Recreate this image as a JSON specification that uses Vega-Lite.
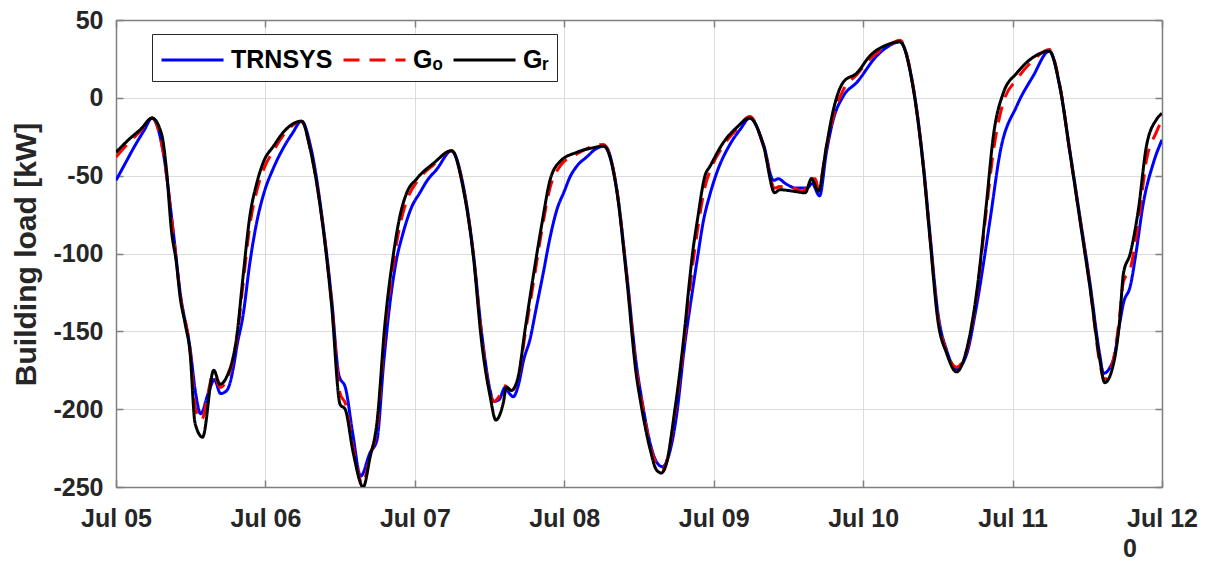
{
"$schema": "https://vega.github.io/schema/vega-lite/v6.json",
"width": 1046, "height": 467,
"autosize": {"type": "none"},
"padding": {"left": 116, "top": 20, "right": 50, "bottom": 75},
"background": "white",
"config": {"view": {"stroke": null}, "font": "Liberation Sans"},
"resolve": {"axis": {"x": "independent", "y": "independent"}},
"layer": [
{
"data": {"values": [
{"h":0,"s":"TRNSYS","v":-53},{"h":1.5,"s":"TRNSYS","v":-42},{"h":3,"s":"TRNSYS","v":-31},{"h":4.5,"s":"TRNSYS","v":-21},{"h":5.8,"s":"TRNSYS","v":-13},{"h":7.5,"s":"TRNSYS","v":-33},{"h":9.2,"s":"TRNSYS","v":-86},{"h":10.3,"s":"TRNSYS","v":-125},{"h":11.9,"s":"TRNSYS","v":-161},{"h":12.8,"s":"TRNSYS","v":-190},{"h":13.6,"s":"TRNSYS","v":-203},{"h":14.8,"s":"TRNSYS","v":-190},{"h":15.8,"s":"TRNSYS","v":-181},{"h":16.8,"s":"TRNSYS","v":-190},{"h":17.8,"s":"TRNSYS","v":-188},{"h":19,"s":"TRNSYS","v":-170},{"h":19.4,"s":"TRNSYS","v":-160},{"h":20.4,"s":"TRNSYS","v":-140},{"h":21.5,"s":"TRNSYS","v":-106},{"h":22.6,"s":"TRNSYS","v":-80},{"h":23.7,"s":"TRNSYS","v":-62},{"h":25.3,"s":"TRNSYS","v":-45},{"h":26.9,"s":"TRNSYS","v":-32},{"h":28.3,"s":"TRNSYS","v":-23},{"h":29.8,"s":"TRNSYS","v":-15},
{"h":31.3,"s":"TRNSYS","v":-32},{"h":33.3,"s":"TRNSYS","v":-83},{"h":34.6,"s":"TRNSYS","v":-128},{"h":35.8,"s":"TRNSYS","v":-178},{"h":36.9,"s":"TRNSYS","v":-187},{"h":38,"s":"TRNSYS","v":-215},{"h":39.3,"s":"TRNSYS","v":-243},{"h":40.8,"s":"TRNSYS","v":-228},{"h":41.9,"s":"TRNSYS","v":-220},{"h":43,"s":"TRNSYS","v":-170},{"h":44,"s":"TRNSYS","v":-132},{"h":45,"s":"TRNSYS","v":-105},{"h":46.1,"s":"TRNSYS","v":-87},{"h":47.5,"s":"TRNSYS","v":-70},{"h":48.8,"s":"TRNSYS","v":-61},{"h":50,"s":"TRNSYS","v":-53},{"h":51.5,"s":"TRNSYS","v":-46},{"h":53.9,"s":"TRNSYS","v":-34},
{"h":55.8,"s":"TRNSYS","v":-57},{"h":57.4,"s":"TRNSYS","v":-100},{"h":58.7,"s":"TRNSYS","v":-150},{"h":60.1,"s":"TRNSYS","v":-188},{"h":60.6,"s":"TRNSYS","v":-195},{"h":61.5,"s":"TRNSYS","v":-194},{"h":62.5,"s":"TRNSYS","v":-186},{"h":63.2,"s":"TRNSYS","v":-190},{"h":63.8,"s":"TRNSYS","v":-192},{"h":64.6,"s":"TRNSYS","v":-185},{"h":65.5,"s":"TRNSYS","v":-168},{"h":66.5,"s":"TRNSYS","v":-155},{"h":67.5,"s":"TRNSYS","v":-135},{"h":68.6,"s":"TRNSYS","v":-113},{"h":69.7,"s":"TRNSYS","v":-90},{"h":70.8,"s":"TRNSYS","v":-72},{"h":72,"s":"TRNSYS","v":-60},{"h":72.9,"s":"TRNSYS","v":-51},{"h":74.2,"s":"TRNSYS","v":-43},{"h":75.6,"s":"TRNSYS","v":-38},{"h":77,"s":"TRNSYS","v":-33},{"h":78.5,"s":"TRNSYS","v":-31},
{"h":80.4,"s":"TRNSYS","v":-58},{"h":82,"s":"TRNSYS","v":-112},{"h":83.6,"s":"TRNSYS","v":-172},{"h":84.5,"s":"TRNSYS","v":-195},{"h":85.8,"s":"TRNSYS","v":-222},{"h":87,"s":"TRNSYS","v":-235},{"h":87.8,"s":"TRNSYS","v":-237},{"h":88.6,"s":"TRNSYS","v":-232},{"h":90,"s":"TRNSYS","v":-205},{"h":91.3,"s":"TRNSYS","v":-160},{"h":92.7,"s":"TRNSYS","v":-121},{"h":93.5,"s":"TRNSYS","v":-100},{"h":94.3,"s":"TRNSYS","v":-80},{"h":95.4,"s":"TRNSYS","v":-62},{"h":96.5,"s":"TRNSYS","v":-48},{"h":98.6,"s":"TRNSYS","v":-30},{"h":100.3,"s":"TRNSYS","v":-20},{"h":101.8,"s":"TRNSYS","v":-13},
{"h":104,"s":"TRNSYS","v":-30},{"h":105.6,"s":"TRNSYS","v":-53},{"h":106.4,"s":"TRNSYS","v":-52},{"h":107.5,"s":"TRNSYS","v":-55},{"h":109.3,"s":"TRNSYS","v":-58},{"h":111,"s":"TRNSYS","v":-58},{"h":111.8,"s":"TRNSYS","v":-55},{"h":113,"s":"TRNSYS","v":-63},{"h":114.1,"s":"TRNSYS","v":-35},{"h":115.2,"s":"TRNSYS","v":-14},{"h":116.8,"s":"TRNSYS","v":1},{"h":119,"s":"TRNSYS","v":10},{"h":122.2,"s":"TRNSYS","v":27},{"h":124,"s":"TRNSYS","v":33},{"h":125.9,"s":"TRNSYS","v":36},
{"h":128,"s":"TRNSYS","v":8},{"h":129.7,"s":"TRNSYS","v":-44},{"h":130.7,"s":"TRNSYS","v":-86},{"h":132,"s":"TRNSYS","v":-138},{"h":133.4,"s":"TRNSYS","v":-162},{"h":135,"s":"TRNSYS","v":-174},{"h":136.6,"s":"TRNSYS","v":-165},{"h":138.2,"s":"TRNSYS","v":-134},{"h":140.4,"s":"TRNSYS","v":-78},{"h":142,"s":"TRNSYS","v":-35},{"h":144.7,"s":"TRNSYS","v":-5},{"h":147.3,"s":"TRNSYS","v":14},{"h":149.9,"s":"TRNSYS","v":30},
{"h":151.6,"s":"TRNSYS","v":7},{"h":153.2,"s":"TRNSYS","v":-34},{"h":154.8,"s":"TRNSYS","v":-76},{"h":156.4,"s":"TRNSYS","v":-118},{"h":158,"s":"TRNSYS","v":-165},{"h":158.6,"s":"TRNSYS","v":-177},{"h":160.2,"s":"TRNSYS","v":-168},{"h":161.2,"s":"TRNSYS","v":-145},{"h":161.8,"s":"TRNSYS","v":-132},{"h":162.9,"s":"TRNSYS","v":-121},{"h":164,"s":"TRNSYS","v":-95},{"h":164.9,"s":"TRNSYS","v":-70},{"h":166.6,"s":"TRNSYS","v":-42},{"h":168,"s":"TRNSYS","v":-27},

{"h":0,"s":"Gₒ","v":-38},{"h":2,"s":"Gₒ","v":-29},{"h":4,"s":"Gₒ","v":-21},{"h":5.8,"s":"Gₒ","v":-13},{"h":7.5,"s":"Gₒ","v":-33},{"h":9.2,"s":"Gₒ","v":-87},{"h":10.3,"s":"Gₒ","v":-126},{"h":11.9,"s":"Gₒ","v":-162},{"h":12.8,"s":"Gₒ","v":-200},{"h":13.7,"s":"Gₒ","v":-207},{"h":15.7,"s":"Gₒ","v":-177},{"h":16.7,"s":"Gₒ","v":-186},{"h":17.8,"s":"Gₒ","v":-181},{"h":19.4,"s":"Gₒ","v":-155},{"h":20.4,"s":"Gₒ","v":-120},{"h":21.5,"s":"Gₒ","v":-82},{"h":22.6,"s":"Gₒ","v":-60},{"h":23.7,"s":"Gₒ","v":-46},{"h":25.3,"s":"Gₒ","v":-34},{"h":26.9,"s":"Gₒ","v":-24},{"h":29.8,"s":"Gₒ","v":-15},
{"h":31.2,"s":"Gₒ","v":-33},{"h":33.3,"s":"Gₒ","v":-84},{"h":34.6,"s":"Gₒ","v":-130},{"h":36,"s":"Gₒ","v":-190},{"h":36.9,"s":"Gₒ","v":-197},{"h":38.1,"s":"Gₒ","v":-225},{"h":39.6,"s":"Gₒ","v":-248},{"h":40.8,"s":"Gₒ","v":-230},{"h":41.9,"s":"Gₒ","v":-213},{"h":43.2,"s":"Gₒ","v":-150},{"h":44.5,"s":"Gₒ","v":-108},{"h":45.6,"s":"Gₒ","v":-82},{"h":46.7,"s":"Gₒ","v":-66},{"h":48.3,"s":"Gₒ","v":-54},{"h":51,"s":"Gₒ","v":-43},{"h":53.9,"s":"Gₒ","v":-34},
{"h":55.8,"s":"Gₒ","v":-58},{"h":57.4,"s":"Gₒ","v":-101},{"h":58.7,"s":"Gₒ","v":-152},{"h":60.1,"s":"Gₒ","v":-190},{"h":60.7,"s":"Gₒ","v":-195},{"h":61.5,"s":"Gₒ","v":-192},{"h":62.5,"s":"Gₒ","v":-185},{"h":63.5,"s":"Gₒ","v":-188},{"h":64.6,"s":"Gₒ","v":-180},{"h":65.7,"s":"Gₒ","v":-152},{"h":67,"s":"Gₒ","v":-120},{"h":68.4,"s":"Gₒ","v":-85},{"h":69.7,"s":"Gₒ","v":-58},{"h":71.3,"s":"Gₒ","v":-44},{"h":74,"s":"Gₒ","v":-36},{"h":76.7,"s":"Gₒ","v":-31},{"h":78.3,"s":"Gₒ","v":-30},
{"h":80.4,"s":"Gₒ","v":-58},{"h":82,"s":"Gₒ","v":-113},{"h":83.6,"s":"Gₒ","v":-175},{"h":84.5,"s":"Gₒ","v":-196},{"h":85.8,"s":"Gₒ","v":-224},{"h":87,"s":"Gₒ","v":-236},{"h":87.7,"s":"Gₒ","v":-239},{"h":88.5,"s":"Gₒ","v":-233},{"h":89.8,"s":"Gₒ","v":-202},{"h":91.3,"s":"Gₒ","v":-155},{"h":92.6,"s":"Gₒ","v":-108},{"h":93.4,"s":"Gₒ","v":-85},{"h":94.6,"s":"Gₒ","v":-57},{"h":95.5,"s":"Gₒ","v":-46},{"h":97.5,"s":"Gₒ","v":-31},{"h":99.7,"s":"Gₒ","v":-20},{"h":101.8,"s":"Gₒ","v":-12},
{"h":104,"s":"Gₒ","v":-31},{"h":105.8,"s":"Gₒ","v":-58},{"h":106.6,"s":"Gₒ","v":-57},{"h":108.8,"s":"Gₒ","v":-58},{"h":110.4,"s":"Gₒ","v":-60},{"h":111.4,"s":"Gₒ","v":-52},{"h":112.3,"s":"Gₒ","v":-52},{"h":112.8,"s":"Gₒ","v":-58},{"h":114.1,"s":"Gₒ","v":-32},{"h":115.2,"s":"Gₒ","v":-12},{"h":116.8,"s":"Gₒ","v":5},{"h":119,"s":"Gₒ","v":15},{"h":121.1,"s":"Gₒ","v":25},{"h":123.8,"s":"Gₒ","v":33},{"h":125.9,"s":"Gₒ","v":37},
{"h":128,"s":"Gₒ","v":8},{"h":129.7,"s":"Gₒ","v":-45},{"h":130.7,"s":"Gₒ","v":-88},{"h":132,"s":"Gₒ","v":-140},{"h":133.4,"s":"Gₒ","v":-163},{"h":135,"s":"Gₒ","v":-173},{"h":136.6,"s":"Gₒ","v":-163},{"h":138.2,"s":"Gₒ","v":-128},{"h":139.8,"s":"Gₒ","v":-72},{"h":140.9,"s":"Gₒ","v":-35},{"h":142.5,"s":"Gₒ","v":-3},{"h":144.7,"s":"Gₒ","v":12},{"h":147.3,"s":"Gₒ","v":24},{"h":149.9,"s":"Gₒ","v":31},
{"h":151.6,"s":"Gₒ","v":8},{"h":153.2,"s":"Gₒ","v":-35},{"h":154.8,"s":"Gₒ","v":-77},{"h":156.4,"s":"Gₒ","v":-120},{"h":158,"s":"Gₒ","v":-170},{"h":158.7,"s":"Gₒ","v":-181},{"h":160.2,"s":"Gₒ","v":-168},{"h":161.2,"s":"Gₒ","v":-140},{"h":161.8,"s":"Gₒ","v":-118},{"h":162.9,"s":"Gₒ","v":-110},{"h":164.2,"s":"Gₒ","v":-80},{"h":165.5,"s":"Gₒ","v":-40},{"h":167.1,"s":"Gₒ","v":-22},{"h":168,"s":"Gₒ","v":-14},

{"h":0,"s":"Gᵣ","v":-35},{"h":2,"s":"Gᵣ","v":-27},{"h":4,"s":"Gᵣ","v":-20},{"h":5.8,"s":"Gᵣ","v":-13},{"h":7.3,"s":"Gᵣ","v":-23},{"h":8.1,"s":"Gᵣ","v":-46},{"h":8.9,"s":"Gᵣ","v":-85},{"h":9.7,"s":"Gᵣ","v":-106},{"h":10.3,"s":"Gᵣ","v":-128},{"h":11.1,"s":"Gᵣ","v":-145},{"h":11.9,"s":"Gᵣ","v":-164},{"h":12.7,"s":"Gᵣ","v":-209},{"h":13.9,"s":"Gᵣ","v":-218},{"h":15.7,"s":"Gᵣ","v":-175},{"h":16.7,"s":"Gᵣ","v":-184},{"h":17.8,"s":"Gᵣ","v":-179},{"h":19.4,"s":"Gᵣ","v":-153},{"h":20.4,"s":"Gᵣ","v":-115},{"h":21.5,"s":"Gᵣ","v":-76},{"h":22.6,"s":"Gᵣ","v":-55},{"h":23.7,"s":"Gᵣ","v":-41},{"h":25.3,"s":"Gᵣ","v":-31},{"h":26.9,"s":"Gᵣ","v":-22},{"h":29.8,"s":"Gᵣ","v":-15},
{"h":31.2,"s":"Gᵣ","v":-33},{"h":33.3,"s":"Gᵣ","v":-85},{"h":34.6,"s":"Gᵣ","v":-132},{"h":36,"s":"Gᵣ","v":-197},{"h":36.8,"s":"Gᵣ","v":-200},{"h":38.1,"s":"Gᵣ","v":-228},{"h":39.7,"s":"Gᵣ","v":-250},{"h":40.8,"s":"Gᵣ","v":-231},{"h":41.9,"s":"Gᵣ","v":-209},{"h":43.2,"s":"Gᵣ","v":-145},{"h":44.5,"s":"Gᵣ","v":-102},{"h":45.6,"s":"Gᵣ","v":-76},{"h":46.7,"s":"Gᵣ","v":-61},{"h":48.3,"s":"Gᵣ","v":-52},{"h":51,"s":"Gᵣ","v":-42},{"h":53.9,"s":"Gᵣ","v":-34},
{"h":55.8,"s":"Gᵣ","v":-59},{"h":57.4,"s":"Gᵣ","v":-102},{"h":58.7,"s":"Gᵣ","v":-156},{"h":60.1,"s":"Gᵣ","v":-192},{"h":61,"s":"Gᵣ","v":-207},{"h":62.2,"s":"Gᵣ","v":-196},{"h":62.7,"s":"Gᵣ","v":-186},{"h":63.5,"s":"Gᵣ","v":-188},{"h":64.6,"s":"Gᵣ","v":-179},{"h":65.7,"s":"Gᵣ","v":-149},{"h":67,"s":"Gᵣ","v":-115},{"h":68.4,"s":"Gᵣ","v":-81},{"h":69.7,"s":"Gᵣ","v":-53},{"h":71.3,"s":"Gᵣ","v":-41},{"h":74,"s":"Gᵣ","v":-35},{"h":76.7,"s":"Gᵣ","v":-32},{"h":78.3,"s":"Gᵣ","v":-31},
{"h":80.4,"s":"Gᵣ","v":-59},{"h":82,"s":"Gᵣ","v":-115},{"h":83.6,"s":"Gᵣ","v":-179},{"h":84.2,"s":"Gᵣ","v":-194},{"h":85.8,"s":"Gᵣ","v":-226},{"h":86.8,"s":"Gᵣ","v":-239},{"h":87.6,"s":"Gᵣ","v":-241},{"h":88.4,"s":"Gᵣ","v":-235},{"h":89.7,"s":"Gᵣ","v":-202},{"h":90.5,"s":"Gᵣ","v":-178},{"h":91.3,"s":"Gᵣ","v":-150},{"h":92,"s":"Gᵣ","v":-122},{"h":92.6,"s":"Gᵣ","v":-100},{"h":93.4,"s":"Gᵣ","v":-78},{"h":94.6,"s":"Gᵣ","v":-50},{"h":95.4,"s":"Gᵣ","v":-44},{"h":97.5,"s":"Gᵣ","v":-29},{"h":99.7,"s":"Gᵣ","v":-19},{"h":101.8,"s":"Gᵣ","v":-13},
{"h":104,"s":"Gᵣ","v":-31},{"h":105.8,"s":"Gᵣ","v":-61},{"h":106.6,"s":"Gᵣ","v":-59},{"h":108.8,"s":"Gᵣ","v":-60},{"h":110.7,"s":"Gᵣ","v":-61},{"h":111.7,"s":"Gᵣ","v":-52},{"h":112.8,"s":"Gᵣ","v":-60},{"h":114.1,"s":"Gᵣ","v":-31},{"h":115.2,"s":"Gᵣ","v":-8},{"h":116.8,"s":"Gᵣ","v":10},{"h":119,"s":"Gᵣ","v":16},{"h":121.1,"s":"Gᵣ","v":27},{"h":123.8,"s":"Gᵣ","v":34},{"h":125.9,"s":"Gᵣ","v":36},
{"h":128,"s":"Gᵣ","v":7},{"h":129.7,"s":"Gᵣ","v":-46},{"h":130.7,"s":"Gᵣ","v":-89},{"h":132,"s":"Gᵣ","v":-143},{"h":133.4,"s":"Gᵣ","v":-164},{"h":135,"s":"Gᵣ","v":-176},{"h":136.6,"s":"Gᵣ","v":-162},{"h":138.2,"s":"Gᵣ","v":-126},{"h":139.8,"s":"Gᵣ","v":-68},{"h":140.9,"s":"Gᵣ","v":-25},{"h":142.5,"s":"Gᵣ","v":3},{"h":144.7,"s":"Gᵣ","v":16},{"h":147.3,"s":"Gᵣ","v":26},{"h":149.9,"s":"Gᵣ","v":30},
{"h":151.6,"s":"Gᵣ","v":7},{"h":153.2,"s":"Gᵣ","v":-35},{"h":154.8,"s":"Gᵣ","v":-78},{"h":156.4,"s":"Gᵣ","v":-121},{"h":158,"s":"Gᵣ","v":-168},{"h":158.8,"s":"Gᵣ","v":-183},{"h":160.2,"s":"Gᵣ","v":-171},{"h":161.2,"s":"Gᵣ","v":-143},{"h":161.8,"s":"Gᵣ","v":-113},{"h":162.9,"s":"Gᵣ","v":-100},{"h":164.2,"s":"Gᵣ","v":-72},{"h":165.5,"s":"Gᵣ","v":-31},{"h":167.1,"s":"Gᵣ","v":-14},{"h":168,"s":"Gᵣ","v":-10}
]},
"mark": {"type": "line", "strokeWidth": 3, "clip": true, "strokeJoin": "round", "interpolate": "monotone"},
"encoding": {
"x": {"field": "h", "type": "quantitative", "scale": {"domain": [0, 168], "nice": false, "zero": false},
 "axis": {"orient": "bottom", "title": null, "values": [0,24,48,72,96,120,144,168],
  "labelExpr": "['Jul 05','Jul 06','Jul 07','Jul 08','Jul 09','Jul 10','Jul 11','Jul 12'][round(datum.value/24)]",
  "labelFlush": false, "labelOverlap": false, "labelFont": "Liberation Sans", "labelFontSize": 25, "labelFontWeight": "bold", "labelColor": "#262626",
  "labelPadding": 26, "tickSize": -7, "tickColor": "#7f7f7f", "tickWidth": 1.5,
  "domainColor": "#7f7f7f", "domainWidth": 1.5, "grid": true, "gridColor": "#dcdcdc", "gridWidth": 1}},
"y": {"field": "v", "type": "quantitative", "scale": {"domain": [-250, 50], "nice": false, "zero": false},
 "axis": {"orient": "left", "title": "Building load [kW]", "values": [-250,-200,-150,-100,-50,0,50],
  "labelExpr": "replace(datum.label, '−', '-')",
  "labelOverlap": false, "labelFont": "Liberation Sans", "labelFontSize": 25, "labelFontWeight": "bold", "labelColor": "#262626",
  "labelPadding": 20, "tickSize": -7, "tickColor": "#7f7f7f", "tickWidth": 1.5,
  "domainColor": "#7f7f7f", "domainWidth": 1.5, "grid": true, "gridColor": "#dcdcdc", "gridWidth": 1,
  "titleFont": "Liberation Sans", "titleFontSize": 30, "titleFontWeight": "bold", "titleColor": "#262626",
  "titleX": -90, "titleY": 234, "titleAngle": 270, "titleAlign": "center", "titleBaseline": "middle"}},
"color": {"field": "s", "type": "nominal", "sort": null,
 "scale": {"domain": ["TRNSYS", "Gₒ", "Gᵣ"], "range": ["#0000ff", "#ff0000", "#000000"]},
 "legend": {"orient": "none", "legendX": 36, "legendY": 14, "direction": "horizontal", "title": null,
  "symbolType": "M-1,0H2.76", "symbolSize": 1089, "symbolStrokeWidth": 3, "symbolFillColor": "transparent",
  "labelFont": "Liberation Sans", "labelFontSize": 25, "labelFontWeight": "bold", "labelColor": "#000000",
  "labelOffset": 35, "columnPadding": 4, "padding": 8, "fillColor": "white", "strokeColor": "#262626", "labelLimit": 300}},
"strokeDash": {"field": "s", "type": "nominal", "sort": null,
 "scale": {"domain": ["TRNSYS", "Gₒ", "Gᵣ"], "range": [[1, 0], [16, 10], [1, 0]]}}
}
},
{
"data": {"values": [{"h": 168, "v": -250, "t": "0"}]},
"mark": {"type": "text", "align": "left", "baseline": "alphabetic", "dx": -39, "dy": 70, "font": "Liberation Sans", "fontSize": 25, "fontWeight": "bold", "color": "#262626"},
"encoding": {
"x": {"field": "h", "type": "quantitative",
 "axis": {"orient": "top", "title": null, "values": [0,24,48,72,96,120,144,168], "labels": false, "grid": false,
  "tickSize": -7, "tickColor": "#7f7f7f", "tickWidth": 1.5, "domainColor": "#7f7f7f", "domainWidth": 1.5}},
"y": {"field": "v", "type": "quantitative",
 "axis": {"orient": "right", "title": null, "values": [-250,-200,-150,-100,-50,0,50], "labels": false, "grid": false,
  "tickSize": -7, "tickColor": "#7f7f7f", "tickWidth": 1.5, "domainColor": "#7f7f7f", "domainWidth": 1.5}},
"text": {"field": "t"}
}
}
]
}
